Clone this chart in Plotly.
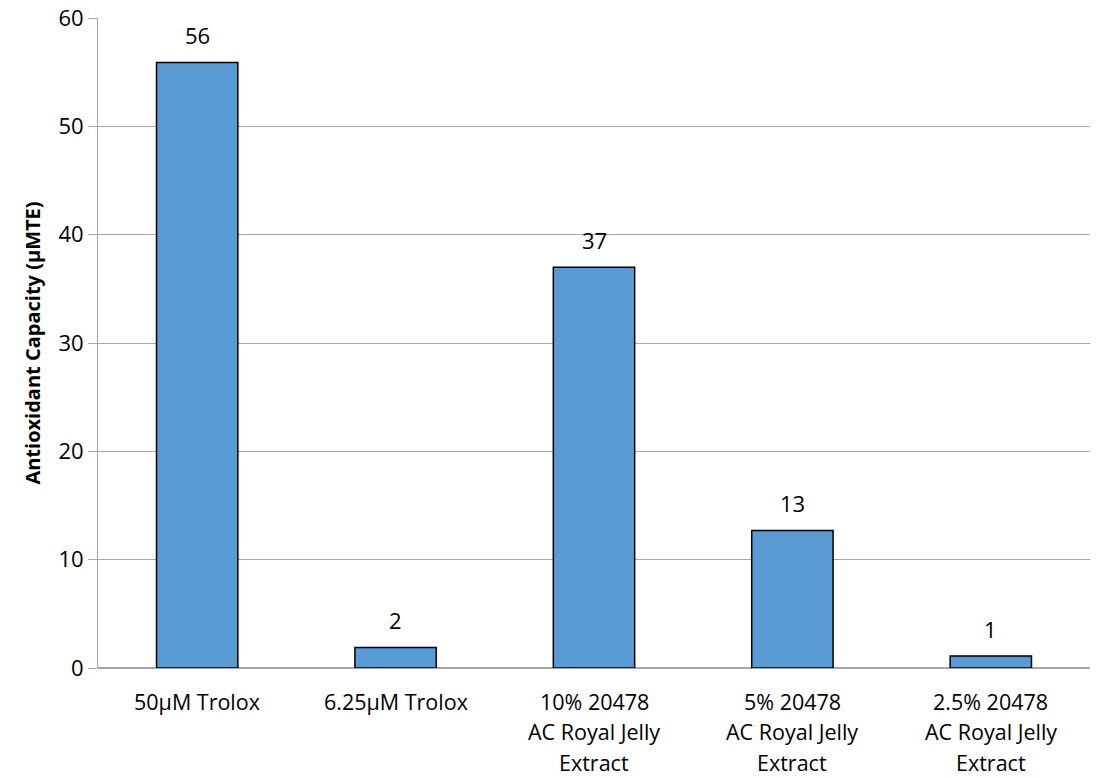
import plotly.graph_objects as go

categories = ["50µM Trolox", "6.25µM Trolox", "10% 20478 AC Royal Jelly Extract",
              "5% 20478 AC Royal Jelly Extract", "2.5% 20478 AC Royal Jelly Extract"]
label_lines = [["50µM Trolox"], ["6.25µM Trolox"],
               ["10% 20478", "AC Royal Jelly", "Extract"],
               ["5% 20478", "AC Royal Jelly", "Extract"],
               ["2.5% 20478", "AC Royal Jelly", "Extract"]]
values = [55.9, 1.9, 37.0, 12.7, 1.1]
y_ticks = [0, 10, 20, 30, 40, 50, 60]

FONT = "Open Sans, Liberation Sans, sans-serif"

fig = go.Figure()
fig.add_trace(go.Bar(
    x=categories, y=values,
    marker=dict(color="#5B9BD5", line=dict(color="#000000", width=1.5)),
    width=0.41,
    hoverinfo="skip",
))

annotations = []
for c, v in zip(categories, values):
    annotations.append(dict(x=c, y=v, xref="x", yref="y", text=f"{v:.0f}",
                            showarrow=False, yshift=27, yanchor="middle",
                            font=dict(family=FONT, size=22, color="#000")))
for c, lines in zip(categories, label_lines):
    for i, ln in enumerate(lines):
        annotations.append(dict(x=c, y=0, xref="x", yref="paper", text=ln,
                                showarrow=False, yshift=-33 - 30.5 * i,
                                yanchor="middle",
                                font=dict(family=FONT, size=21.5, color="#000")))

fig.update_layout(
    width=1105, height=778,
    margin=dict(l=98, r=15, t=18, b=110),
    paper_bgcolor="white", plot_bgcolor="white",
    showlegend=False,
    annotations=annotations,
    xaxis=dict(showticklabels=False, showgrid=False, zeroline=False,
               showline=False, ticks=""),
    yaxis=dict(range=[0, 60], tickvals=y_ticks, showgrid=True, automargin=False,
               gridcolor="#a6a6a6", gridwidth=1, zeroline=True,
               zerolinecolor="#a6a6a6", zerolinewidth=1.5,
               showline=True, linecolor="#a6a6a6", linewidth=1,
               ticks="outside", ticklen=9, tickcolor="#a6a6a6",
               tickfont=dict(family=FONT, size=22, color="#000"),
               title=dict(text="<b>Antioxidant Capacity (µMTE)</b>",
                          font=dict(family=FONT, size=20, color="#000"),
                          standoff=12)),
)

fig.write_html("out.html", config={"displayModeBar": False},
               post_script="document.body.style.margin='0';document.body.style.overflow='hidden';")
